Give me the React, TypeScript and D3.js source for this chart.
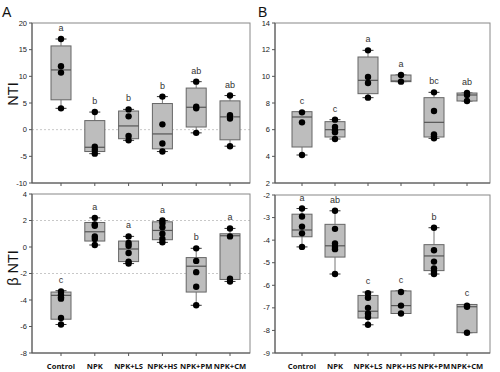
import React from "react";
import * as d3 from "d3";

const groups = ["Control", "NPK", "NPK+LS", "NPK+HS", "NPK+PM", "NPK+CM"];

// box stats per group: [whiskerLow, q1, median, q3, whiskerHigh]
const ntiBoxA = [
  [4, 5.6, 11.2, 15.7, 17],
  [-4.5, -4.1, -3.3, 1.7, 3.3],
  [-2.0, -1.7, 0.7, 3.5, 3.8],
  [-4.1, -3.6, -0.8, 4.9, 6.2],
  [-0.6, 0.5, 4.2, 7.8, 9.0],
  [-3.1, -1.9, 2.4, 5.4, 6.4],
];
const ntiPointsA = [
  [17, 11.9, 10.7, 4],
  [3.3, -3.2, -3.8, -4.5],
  [3.8, 2.5, -1.2, -2.0],
  [6.2, 1.0, -2.6, -4.1],
  [9.0, 4.3, 4.0, -0.6],
  [6.4, 2.7, 2.1, -3.1],
];
const ntiLettersA = ["a", "b", "b", "b", "ab", "ab"];

const ntiBoxB = [
  [4.1, 4.7, 6.95, 7.35, 7.3],
  [5.3, 5.45, 6.0, 6.6, 6.75],
  [8.4, 8.7, 9.7, 11.45, 11.95],
  [9.6, 9.6, 9.65, 10.1, 10.1],
  [5.35, 5.45, 6.55, 8.4, 8.8],
  [8.15, 8.15, 8.6, 8.75, 8.75],
];
const ntiPointsB = [
  [7.3, 6.55, 4.1],
  [6.75, 6.2, 5.95, 5.8, 5.3],
  [11.95, 9.95, 9.5, 8.4],
  [10.1, 9.6],
  [8.8, 7.4, 5.65, 5.5, 5.35],
  [8.75, 8.6, 8.15],
];
const ntiLettersB = ["c", "c", "a", "a", "bc", "ab"];

const bntiBoxA = [
  [-5.85, -5.45, -3.65, -3.4, -3.3],
  [0.15, 0.45, 1.15, 1.85, 2.2],
  [-1.25, -1.1, -0.15, 0.45, 0.8],
  [0.35, 0.55, 1.25, 1.9, 2.0],
  [-4.4, -3.4, -1.45, -0.8, -0.1],
  [-2.6, -2.45, 0.85, 1.0, 1.4],
];
const bntiPointsA = [
  [-3.35, -3.6, -3.8, -3.9, -5.35, -5.85],
  [2.2, 1.7, 1.6, 0.8, 0.6, 0.15],
  [0.8, 0.3, 0.1, -0.45, -1.1, -1.25],
  [2.0, 1.8, 1.5, 1.0, 0.6, 0.35],
  [-0.1, -1.05, -1.9, -3.0, -4.4],
  [1.4, 0.8, -2.4, -2.6],
];
const bntiLettersA = ["c", "a", "a", "a", "b", "a"];

const bntiBoxB = [
  [-4.3, -3.85, -3.55, -2.85, -2.6],
  [-5.5, -4.75, -4.25, -3.3, -2.7],
  [-7.75, -7.45, -7.15, -6.45, -6.3],
  [-7.25, -7.25, -6.9, -6.25, -6.25],
  [-5.5, -5.35, -4.7, -4.2, -3.45],
  [-8.1, -8.1, -6.95, -6.85, -6.85],
];
const bntiPointsB = [
  [-2.6, -2.95, -3.4, -3.7, -4.3],
  [-2.7, -3.5, -4.15, -4.3, -4.4, -5.5],
  [-6.35, -6.55, -7.0, -7.25, -7.4, -7.75],
  [-6.3, -6.9, -7.25],
  [-3.45, -4.45, -4.95, -5.25, -5.4, -5.5],
  [-6.9, -6.95, -8.1],
];
const bntiLettersB = ["a", "ab", "c", "c", "b", "c"];

const panels = [
  { box: ntiBoxA, pts: ntiPointsA, letters: ntiLettersA, domain: [-10, 20], ticks: d3.range(-10, 21, 5), refs: [0],
    x0: 32, x1: 250, y0: 23, y1: 183, cx: [61, 230], xLabels: false },
  { box: ntiBoxB, pts: ntiPointsB, letters: ntiLettersB, domain: [2, 14], ticks: d3.range(2, 15, 2), refs: [],
    x0: 275, x1: 490, y0: 23, y1: 183, cx: [302, 467], xLabels: false },
  { box: bntiBoxA, pts: bntiPointsA, letters: bntiLettersA, domain: [-8, 4], ticks: d3.range(-8, 5, 2), refs: [2, -2],
    x0: 32, x1: 250, y0: 194, y1: 353, cx: [61, 230], xLabels: true },
  { box: bntiBoxB, pts: bntiPointsB, letters: bntiLettersB, domain: [-9, -2], ticks: d3.range(-9, -1, 1), refs: [],
    x0: 275, x1: 490, y0: 195, y1: 353, cx: [302, 467], xLabels: true },
];

const axisColor = "#555";
const tickFont = "Liberation Sans, Arial, sans-serif";

function Panel({ p }: { p: any }) {
  const y = d3.scaleLinear().domain(p.domain).range([p.y1, p.y0]);
  const x = d3.scalePoint<string>().domain(groups).range(p.cx);
  const bw = 20;
  const cap = 5.5;
  return (
    <g>
      {p.refs.map((r: number) => (
        <line key={"r" + r} x1={p.x0} x2={p.x1} y1={y(r)} y2={y(r)}
          stroke="#c8c8c8" strokeWidth={1} strokeDasharray="2,2" />
      ))}
      <rect x={p.x0} y={p.y0} width={p.x1 - p.x0} height={p.y1 - p.y0}
        fill="none" stroke="#888" strokeWidth={1} />
      <line x1={p.x0} x2={p.x0} y1={p.y0} y2={p.y1} stroke={axisColor} />
      <line x1={p.x0} x2={p.x1} y1={p.y1} y2={p.y1} stroke={axisColor} />
      {p.ticks.map((t: number) => (
        <g key={"t" + t}>
          <line x1={p.x0 - 3} x2={p.x0} y1={y(t)} y2={y(t)} stroke={axisColor} />
          <text x={p.x0 - 5} y={y(t)} dy="0.35em" textAnchor="end" fontSize={7.5}
            fontFamily={tickFont} fill="#222">{t}</text>
        </g>
      ))}
      {groups.map((g, i) => {
        const cx = x(g) as number;
        const [lo, q1, med, q3, hi] = p.box[i];
        return (
          <g key={g}>
            <line x1={cx} x2={cx} y1={p.y1} y2={p.y1 + 3} stroke={axisColor} />
            <line x1={cx} x2={cx} y1={y(hi)} y2={y(q3)} stroke="#777" />
            <line x1={cx} x2={cx} y1={y(q1)} y2={y(lo)} stroke="#777" />
            <line x1={cx - cap} x2={cx + cap} y1={y(hi)} y2={y(hi)} stroke="#333" />
            <line x1={cx - cap} x2={cx + cap} y1={y(lo)} y2={y(lo)} stroke="#333" />
            <rect x={cx - bw / 2} y={y(q3)} width={bw} height={Math.max(y(q1) - y(q3), 1)}
              fill="#bdbdbd" stroke="#666" strokeWidth={1} />
            <line x1={cx - bw / 2} x2={cx + bw / 2} y1={y(med)} y2={y(med)} stroke="#555" strokeWidth={1.2} />
            {p.pts[i].map((v: number, j: number) => (
              <circle key={j} cx={cx} cy={y(v)} r={3.2} fill="#000" />
            ))}
            <text x={cx} y={y(Math.max(hi, ...p.pts[i])) - 8} textAnchor="middle" fontSize={9}
              fontFamily={tickFont} fill="#333">{p.letters[i]}</text>
            {p.xLabels && (
              <text x={cx} y={369} textAnchor="middle" fontSize={7.6} fontWeight="bold"
                fontFamily="Open Sans, sans-serif" fill="#111">{g}</text>
            )}
          </g>
        );
      })}
    </g>
  );
}

export default function App() {
  return (
    <svg width={500} height={372} style={{ position: "absolute", left: 0, top: 0, background: "#fff" }}>
      {panels.map((p, i) => <Panel key={i} p={p} />)}
      <text x={2} y={17} fontSize={14} fontFamily={tickFont} fill="#111">A</text>
      <text x={258} y={17} fontSize={14} fontFamily={tickFont} fill="#111">B</text>
      <text transform="translate(18,94) rotate(-90)" textAnchor="middle" fontSize={14.5}
        fontFamily={tickFont} fill="#111">NTI</text>
      <text transform="translate(18,268) rotate(-90)" textAnchor="middle" fontSize={14.5}
        fontFamily={tickFont} fill="#111">β NTI</text>
    </svg>
  );
}
